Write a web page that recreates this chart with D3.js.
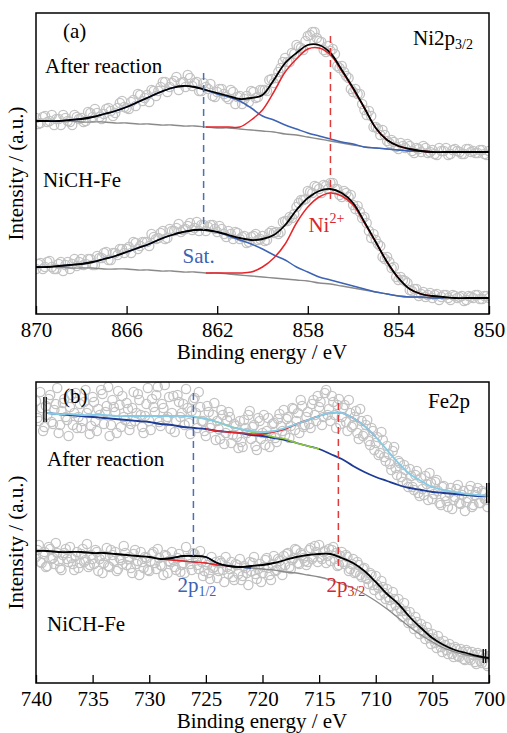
<!DOCTYPE html>
<html>
<head>
<meta charset="utf-8">
<script src="https://cdn.jsdelivr.net/npm/d3@7"></script>
<style>
  body { margin: 0; background: #fff; }
</style>
</head>
<body>
<svg id="chart" width="507" height="733"></svg>
<script>
// ---- data ----------------------------------------------------------------
// intensities are in arbitrary units (0..301 spans the panel height)

// Ni 2p3/2 : fit grid 870 -> 850 eV, step 0.5 ; two interleaved scans, step 0.2
var niFitE = d3.range(41).map(i => 870 - i * 0.5);
var niScanE = d3.range(101).map(i => 870 - i * 0.2);
var niScanE2 = d3.range(100).map(i => 869.9 - i * 0.2);
var niTicks = [870, 866, 862, 858, 854, 850];

var niAfterBg = [193, 193, 193, 193, 192, 192, 192, 191, 191, 190, 190, 189, 189, 188, 188, 187, 186, 186, 185, 184,
  183, 182, 180, 179, 177, 175, 173, 171, 169, 167, 166, 165, 164, 163, 163, 162, 162, 162, 162, 162, 162];
var niAfterSat = [0, 0, 0, 1, 3, 5, 8, 12, 16, 22, 27, 33, 37, 40, 39, 37, 34, 31, 28, 22,
  15, 12, 9, 6, 4, 3, 2, 1, 1, 0, 0, 0, 0, 0, 0, 0, 0, 0, 0, 0, 0];
var niAfterNi = [0, 0, 0, 0, 0, 0, 0, 0, 0, 0, 0, 0, 0, 0, 0, 0, 1, 1, 2, 10,
  21, 40, 62, 76, 88, 91, 86, 72, 56, 39, 20, 9, 4, 2, 0, 0, 0, 0, 0, 0, 0];
var niAfterScan = [196, 191, 198, 193, 189, 195, 199, 193, 189, 197, 196, 193, 201, 205, 197, 200, 206, 198, 206, 213,
  206, 212, 208, 219, 216, 212, 223, 223, 232, 222, 231, 237, 231, 227, 236, 231, 223, 231, 225, 218,
  222, 225, 217, 224, 210, 218, 215, 212, 222, 217, 224, 223, 235, 236, 246, 256, 252, 260, 267, 264,
  278, 282, 276, 272, 262, 263, 260, 246, 242, 236, 222, 220, 210, 199, 198, 187, 179, 179, 171, 172,
  165, 168, 170, 163, 166, 162, 166, 162, 160, 166, 163, 159, 164, 163, 160, 165, 162, 161, 164, 160, 163];
var niAfterScan2 = [190, 197, 192, 199, 195, 189, 196, 192, 199, 195, 192, 202, 197, 201, 195, 205, 203, 201, 211, 207,
  205, 214, 220, 213, 219, 224, 218, 227, 232, 227, 233, 224, 232, 239, 228, 232, 223, 227, 230, 217,
  225, 220, 215, 222, 217, 210, 218, 223, 216, 224, 224, 234, 231, 242, 252, 252, 261, 269, 266, 273,
  279, 282, 273, 264, 268, 265, 248, 248, 238, 225, 225, 220, 204, 203, 187, 185, 184, 173, 174, 167,
  171, 166, 168, 161, 165, 168, 161, 164, 159, 163, 166, 160, 165, 162, 160, 165, 163, 161, 164, 159];

var niFreshBg = [47, 47, 47, 46, 46, 46, 45, 45, 45, 44, 44, 43, 43, 42, 42, 41, 41, 40, 39, 38,
  37, 36, 35, 34, 33, 31, 30, 28, 26, 24, 22, 20, 18, 17, 17, 16, 16, 16, 16, 16, 16];
var niFreshSat = [0, 0, 1, 3, 4, 6, 10, 13, 17, 22, 26, 32, 36, 40, 42, 43, 41, 38, 35, 32,
  28, 23, 19, 13, 9, 6, 4, 3, 2, 1, 0, 0, 0, 0, 0, 0, 0, 0, 0, 0, 0];
var niFreshNi = [0, 0, 0, 0, 0, 0, 0, 0, 0, 0, 0, 0, 0, 0, 0, 0, 0, 1, 2, 4,
  10, 20, 35, 57, 74, 86, 91, 90, 83, 67, 50, 32, 18, 8, 3, 2, 1, 0, 0, 0, 0];
var niFreshScan = [45, 51, 47, 53, 45, 50, 43, 52, 50, 48, 55, 50, 55, 49, 56, 61, 54, 61, 59, 65,
  65, 61, 71, 68, 72, 68, 77, 76, 83, 76, 83, 86, 82, 85, 91, 86, 83, 89, 87, 89,
  82, 85, 77, 80, 82, 75, 78, 72, 78, 74, 78, 74, 83, 82, 82, 93, 97, 100, 111, 114,
  123, 121, 127, 121, 128, 131, 125, 119, 123, 117, 109, 108, 96, 91, 76, 74, 68, 55, 52, 47,
  34, 34, 31, 23, 25, 20, 17, 21, 19, 14, 19, 16, 19, 16, 18, 14, 17, 19, 15, 18, 16];
var niFreshScan2 = [50, 45, 52, 47, 45, 52, 49, 45, 55, 52, 49, 55, 49, 58, 56, 62, 54, 61, 65, 61,
  67, 72, 65, 72, 72, 80, 75, 81, 75, 85, 83, 90, 84, 88, 84, 92, 89, 83, 89, 85,
  88, 80, 83, 75, 81, 77, 71, 77, 80, 75, 73, 81, 81, 80, 92, 93, 96, 107, 114, 115,
  122, 128, 125, 129, 125, 131, 125, 117, 121, 119, 105, 102, 97, 83, 80, 70, 57, 57, 46, 37,
  37, 33, 24, 25, 18, 22, 19, 16, 20, 17, 19, 14, 18, 17, 13, 18, 16, 19, 15, 18];

var niSatPos = 862.6, niPeakPos = 857.0;

// Fe 2p : fit grid 740 -> 700 eV, step 1 ; two interleaved scans, step 0.25
var feFitE = d3.range(41).map(i => 740 - i);
var feScanE = d3.range(161).map(i => 740 - i * 0.25);
var feScanE2 = d3.range(160).map(i => 739.875 - i * 0.25);
var feTicks = [740, 735, 730, 725, 720, 715, 710, 705, 700];

var feAfterBg = [270, 270, 269, 268, 267, 266, 265, 264, 263, 262, 261, 259, 258, 256, 255, 254, 252, 251, 250, 248,
  247, 245, 243, 240, 237, 234, 229, 224, 217, 211, 206, 202, 198, 195, 193, 191, 190, 189, 188, 187, 187];
var feAfterP12 = [0, 0, 0, 1, 1, 2, 3, 3, 4, 5, 6, 8, 9, 11, 11, 10, 9, 6, 4, 3,
  2, 1, 1, 0, 0, 0, 0, 0, 0, 0, 0, 0, 0, 0, 0, 0, 0, 0, 0, 0, 0];
var feAfterP32 = [0, 0, 0, 0, 0, 0, 0, 0, 0, 0, 0, 0, 0, 0, 0, 0, 0, 0, 0, 1,
  2, 6, 11, 19, 26, 33, 41, 46, 48, 46, 40, 31, 22, 14, 9, 5, 3, 2, 1, 1, 0];
var feAfterScan = [282, 262, 275, 256, 268, 288, 259, 279, 250, 272, 284, 263, 276, 258, 290, 266, 255, 281, 270, 249,
  286, 262, 274, 293, 259, 277, 247, 283, 271, 292, 256, 266, 280, 253, 275, 262, 289, 268, 250, 279,
  262, 284, 271, 296, 257, 275, 264, 286, 270, 251, 288, 266, 279, 294, 260, 272, 285, 255, 276, 262,
  247, 271, 258, 280, 262, 244, 268, 250, 271, 240, 259, 246, 262, 236, 255, 268, 244, 258, 233, 262,
  250, 238, 265, 247, 260, 241, 269, 252, 248, 266, 257, 274, 262, 250, 277, 258, 271, 255, 283, 262,
  276, 258, 290, 268, 262, 281, 255, 284, 266, 278, 252, 270, 258, 272, 244, 262, 249, 263, 238, 252,
  240, 228, 251, 226, 237, 219, 232, 215, 222, 206, 218, 200, 214, 196, 208, 190, 205, 188, 199, 210,
  184, 201, 192, 178, 197, 182, 190, 174, 186, 198, 179, 192, 181, 193, 176, 188, 195, 180, 190, 183, 186];
var feAfterScan2 = [265, 291, 252, 277, 284, 261, 273, 295, 258, 280, 266, 247, 288, 270, 255, 279, 262, 293, 274, 257,
  281, 252, 268, 289, 271, 296, 258, 276, 250, 278, 287, 263, 274, 259, 291, 270, 283, 256, 267, 295,
  253, 276, 288, 261, 279, 298, 266, 254, 287, 262, 281, 270, 258, 275, 249, 283, 270, 291, 262, 252,
  277, 255, 268, 243, 254, 273, 239, 263, 266, 248, 257, 235, 241, 263, 250, 272, 256, 237, 265, 244,
  268, 252, 236, 259, 245, 264, 257, 273, 264, 245, 275, 253, 270, 283, 256, 266, 259, 279, 268, 287,
  281, 266, 293, 274, 287, 268, 278, 259, 275, 261, 283, 256, 266, 250, 274, 247, 258, 242, 255, 233,
  246, 230, 243, 222, 229, 213, 236, 208, 220, 201, 213, 196, 207, 193, 212, 187, 194, 207, 183, 200,
  189, 203, 180, 196, 187, 176, 195, 183, 194, 180, 188, 172, 185, 197, 178, 191, 180, 192, 184, 176];
var feAfterMarks = [[739.2, 261, 286], [700.1, 180, 200]];

var feFreshBg = [132, 132, 131, 131, 131, 130, 130, 129, 128, 127, 126, 124, 123, 122, 121, 120, 118, 117, 116, 115,
  114, 113, 111, 110, 108, 106, 103, 99, 95, 89, 82, 74, 65, 56, 48, 41, 35, 31, 28, 26, 24];
var feFreshP12 = [0, 0, 0, 0, 0, 0, 0, 0, 0, 0, 0, 0, 2, 5, 6, 6, 2, 0, 0, 0,
  0, 0, 0, 0, 0, 0, 0, 0, 0, 0, 0, 0, 0, 0, 0, 0, 0, 0, 0, 0, 0];
var feFreshP32 = [0, 0, 0, 0, 0, 0, 0, 0, 0, 0, 0, 0, 0, 0, 0, 0, 0, 0, 0, 2,
  4, 7, 12, 16, 20, 23, 26, 26, 25, 23, 19, 15, 14, 10, 7, 4, 3, 2, 2, 1, 1];
var feFreshScan = [126, 138, 120, 131, 117, 134, 125, 140, 122, 113, 130, 124, 136, 119, 127, 115, 129, 121, 139, 118,
  124, 133, 112, 127, 120, 135, 116, 128, 131, 114, 123, 137, 118, 126, 110, 133, 122, 131, 115, 125,
  112, 129, 120, 134, 118, 108, 127, 122, 131, 116, 125, 111, 120, 136, 124, 113, 129, 118, 132, 107,
  121, 110, 126, 116, 105, 122, 113, 126, 109, 121, 103, 118, 124, 107, 115, 98, 112, 126, 104, 119,
  110, 123, 115, 103, 127, 113, 122, 108, 118, 130, 114, 125, 133, 119, 128, 122, 121, 135, 126, 131,
  138, 124, 132, 127, 122, 136, 130, 118, 131, 119, 126, 114, 124, 111, 118, 106, 115, 104, 110, 98,
  107, 95, 102, 90, 94, 83, 91, 78, 84, 72, 80, 68, 71, 60, 66, 55, 59, 50, 56, 45,
  49, 40, 47, 36, 42, 33, 39, 29, 36, 27, 34, 24, 33, 25, 31, 21, 30, 22, 28, 19, 27];
var feFreshScan2 = [133, 121, 129, 116, 136, 124, 119, 130, 115, 128, 134, 121, 125, 113, 131, 120, 134, 123, 116, 128,
  119, 131, 124, 110, 127, 117, 133, 122, 112, 125, 119, 130, 124, 115, 129, 119, 108, 121, 126, 113,
  122, 131, 114, 125, 117, 128, 110, 121, 123, 113, 129, 118, 110, 125, 119, 130, 124, 114, 121, 112,
  118, 104, 115, 121, 112, 120, 101, 116, 114, 106, 119, 109, 103, 117, 110, 121, 120, 109, 114, 101,
  116, 125, 108, 119, 112, 124, 117, 127, 129, 116, 123, 134, 120, 130, 125, 118, 133, 124, 137, 121,
  126, 131, 120, 134, 133, 124, 117, 127, 121, 128, 112, 119, 110, 121, 108, 114, 105, 99, 108, 93,
  98, 88, 96, 84, 86, 77, 84, 72, 75, 66, 72, 60, 63, 54, 61, 49, 53, 44, 50, 39,
  44, 35, 41, 31, 38, 29, 35, 26, 34, 26, 31, 23, 31, 23, 28, 19, 28, 20, 25, 17];
var feFreshMarks = [[700.4, 20, 34]];

var feP12Pos = 726.1, feP32Pos = 713.3;

// ---- helpers ------------------------------------------------------------
var svg = d3.select("#chart");
svg.append("rect").attr("width", 507).attr("height", 733).attr("fill", "#fff");

var sFont = "Liberation Serif";
var cRed = "#e5262b", cBlue = "#3c63b4", cGray = "#8a8a8a";

function add(a, b) { return a.map((v, i) => v + b[i]); }

function pairs(aE, aV, from, to) {
    return aE.map((e, i) => [e, aV[i]])
        .filter(d => d[0] <= from + 1e-6 && d[0] >= to - 1e-6);
}

// every text gets the serif face inline
function serif(sel) {
    return sel.style("font-family", sFont);
}

function drawPanel(o) {
    var x = d3.scaleLinear().domain(o.domain).range([36, 489]);
    var y = d3.scaleLinear().domain([0, 301]).range([o.bottom, o.top]);
    var g = svg.append("g");

    // clip to the frame
    g.append("clipPath").attr("id", o.id + "-clip")
        .append("rect")
        .attr("x", 36).attr("y", o.top)
        .attr("width", 453).attr("height", o.bottom - o.top);
    var inner = g.append("g").attr("clip-path", `url(#${o.id}-clip)`);

    // scan points
    o.scans.forEach(s => {
        inner.append("g").selectAll("circle")
            .data(s.E.map((e, i) => [e, s.v[i]]))
            .join("circle")
            .attr("cx", d => x(d[0]))
            .attr("cy", d => y(d[1]))
            .attr("r", 4.6)
            .attr("fill", "none")
            .attr("stroke", "#c3c3c3")
            .attr("stroke-width", 1.3);
    });

    var line = d3.line()
        .x(d => x(d[0]))
        .y(d => y(d[1]))
        .curve(d3.curveCatmullRom);

    // fitted curves
    o.lines.forEach(l => {
        inner.append("path")
            .datum(pairs(l.E, l.v, l.from, l.to))
            .attr("fill", "none")
            .attr("stroke", l.color)
            .attr("stroke-width", l.width)
            .attr("d", line);
    });

    // end markers
    (o.marks || []).forEach(m => {
        [-1.2, 1.2].forEach(dx => {
            g.append("line")
                .attr("x1", x(m[0]) + dx).attr("x2", x(m[0]) + dx)
                .attr("y1", y(m[1])).attr("y2", y(m[2]))
                .attr("stroke", "#111").attr("stroke-width", 1.4);
        });
    });

    // dashed position lines
    o.dashes.forEach(d => {
        g.append("line")
            .attr("x1", x(d.e)).attr("x2", x(d.e))
            .attr("y1", y(d.v0)).attr("y2", y(d.v1))
            .attr("stroke", d.color)
            .attr("stroke-width", 1.5)
            .attr("stroke-dasharray", "7,5");
    });

    // frame
    g.append("rect")
        .attr("x", 36).attr("y", o.top)
        .attr("width", 453).attr("height", o.bottom - o.top)
        .attr("fill", "none").attr("stroke", "#000").attr("stroke-width", 1.5);

    // x axis, ticks pointing inward
    var axis = g.append("g")
        .attr("transform", `translate(0, ${o.bottom})`)
        .call(d3.axisBottom(x).tickValues(o.ticks).tickFormat(d3.format("d"))
            .tickSizeInner(-8).tickSizeOuter(0).tickPadding(8));
    axis.select(".domain").remove();
    axis.selectAll("line").attr("stroke", "#000").attr("stroke-width", 1.3);
    serif(axis.selectAll("text")).style("font-size", "21px").attr("fill", "#000");

    serif(g.append("text"))
        .attr("x", 262).attr("y", o.bottom + 45)
        .attr("text-anchor", "middle").style("font-size", "21px")
        .text("Binding energy / eV");

    serif(g.append("text"))
        .attr("transform", `translate(23, ${(o.top + o.bottom) / 2 + 10}) rotate(-90)`)
        .attr("text-anchor", "middle").style("font-size", "21px")
        .text("Intensity / (a.u.)");

    o.labels.forEach(t => {
        var txt = serif(g.append("text"))
            .attr("x", t.x).attr("y", t.y)
            .attr("text-anchor", t.anchor || "start")
            .style("font-size", "21px")
            .attr("fill", t.color || "#000")
            .text(t.text);
        if (t.sub) txt.append("tspan").style("font-size", "14px").attr("dy", 4).text(t.sub);
        if (t.sup) txt.append("tspan").style("font-size", "14px").attr("dy", -9).text(t.sup);
    });

    return x;
}

// ---- panel (a) : Ni 2p3/2 ---------------------------------------------
var xa = d3.scaleLinear().domain([870, 850]).range([36, 489]);
drawPanel({
    id: "pa", top: 13, bottom: 314, domain: [870, 850], ticks: niTicks,
    scans: [
        { E: niScanE, v: niAfterScan }, { E: niScanE2, v: niAfterScan2 },
        { E: niScanE, v: niFreshScan }, { E: niScanE2, v: niFreshScan2 }
    ],
    lines: [
        { E: niFitE, v: niAfterBg, color: cGray, width: 1.3, from: 870, to: 850 },
        { E: niFitE, v: add(niAfterBg, niAfterSat), color: cBlue, width: 1.5, from: 870, to: 852 },
        { E: niFitE, v: add(niAfterBg, niAfterNi), color: cRed, width: 1.5, from: 862.5, to: 852 },
        { E: niFitE, v: add(add(niAfterBg, niAfterSat), niAfterNi), color: "#000", width: 1.8, from: 870, to: 850 },
        { E: niFitE, v: niFreshBg, color: cGray, width: 1.3, from: 870, to: 850 },
        { E: niFitE, v: add(niFreshBg, niFreshSat), color: cBlue, width: 1.5, from: 870, to: 852 },
        { E: niFitE, v: add(niFreshBg, niFreshNi), color: cRed, width: 1.5, from: 862.5, to: 852 },
        { E: niFitE, v: add(add(niFreshBg, niFreshSat), niFreshNi), color: "#000", width: 1.8, from: 870, to: 850 }
    ],
    dashes: [
        { e: niSatPos, v0: 241, v1: 84, color: "#4a70b8" },
        { e: niPeakPos, v0: 278, v1: 111, color: "#e03a3a" }
    ],
    labels: [
        { x: 63, y: 38, text: "(a)" },
        { x: 413, y: 45, text: "Ni2p", sub: "3/2" },
        { x: 45, y: 73, text: "After reaction" },
        { x: 43, y: 187, text: "NiCH-Fe" },
        { x: xa(niSatPos) - 5, y: 263, text: "Sat.", anchor: "middle", color: "#3c63b4" },
        { x: xa(niPeakPos) - 22, y: 232, text: "Ni", sup: "2+", color: "#d7262d" }
    ]
});

// ---- panel (b) : Fe 2p ------------------------------------------------
var xb = d3.scaleLinear().domain([740, 700]).range([36, 489]);
drawPanel({
    id: "pb", top: 382, bottom: 683, domain: [740, 700], ticks: feTicks,
    scans: [
        { E: feScanE, v: feAfterScan }, { E: feScanE2, v: feAfterScan2 },
        { E: feScanE, v: feFreshScan }, { E: feScanE2, v: feFreshScan2 }
    ],
    marks: feAfterMarks.concat(feFreshMarks),
    lines: [
        { E: feFitE, v: feAfterBg, color: "#1d3b94", width: 1.8, from: 739, to: 700 },
        { E: feFitE, v: add(feAfterBg, feAfterP12), color: "#8cc63f", width: 1.5, from: 727, to: 715 },
        { E: feFitE, v: add(feAfterBg, feAfterP32), color: cRed, width: 1.5, from: 725, to: 710 },
        { E: feFitE, v: add(add(feAfterBg, feAfterP12), feAfterP32), color: "#86cbe6", width: 1.8, from: 739, to: 700 },
        { E: feFitE, v: feFreshBg, color: cGray, width: 1.3, from: 740, to: 700 },
        { E: feFitE, v: add(feFreshBg, feFreshP32), color: cRed, width: 1.3, from: 729, to: 721 },
        { E: feFitE, v: add(feFreshBg, feFreshP12), color: "#1d3b94", width: 1.5, from: 728, to: 721 },
        { E: feFitE, v: add(add(feFreshBg, feFreshP12), feFreshP32), color: "#000", width: 1.8, from: 740, to: 700 }
    ],
    dashes: [
        { e: feP12Pos, v0: 290, v1: 120, color: "#4a70b8" },
        { e: feP32Pos, v0: 280, v1: 116, color: "#e03a3a" }
    ],
    labels: [
        { x: 63, y: 403, text: "(b)" },
        { x: 428, y: 408, text: "Fe2p" },
        { x: 47, y: 466, text: "After reaction" },
        { x: 47, y: 631, text: "NiCH-Fe" },
        { x: xb(feP12Pos) - 16, y: 592, text: "2p", sub: "1/2", color: "#3c63b4" },
        { x: xb(feP32Pos) - 12, y: 592, text: "2p", sub: "3/2", color: "#d7262d" }
    ]
});
</script>
</body>
</html>
